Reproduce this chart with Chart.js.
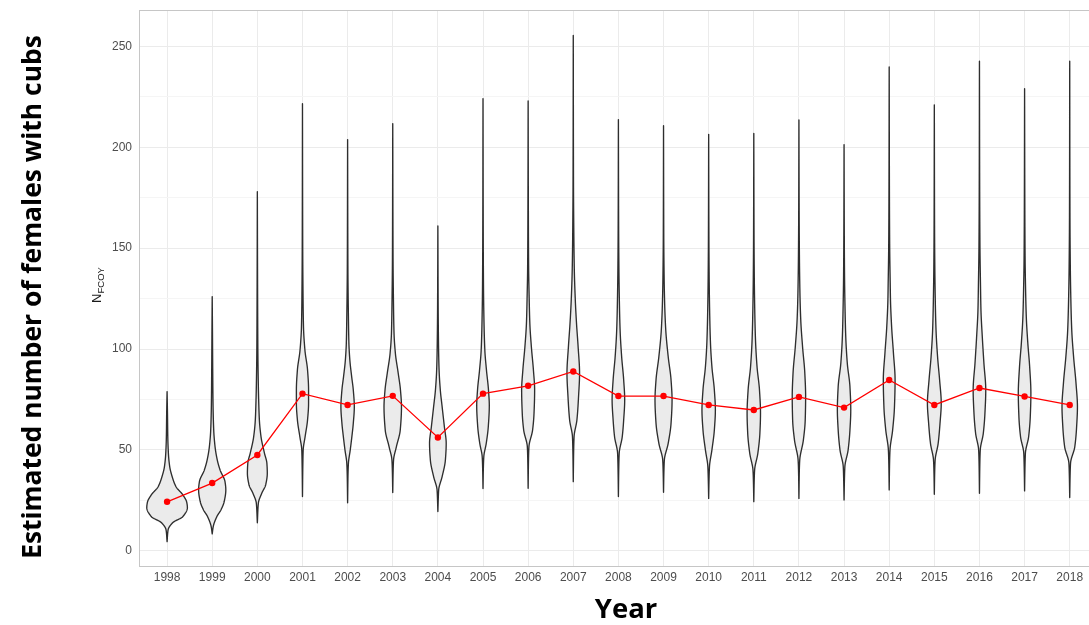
<!DOCTYPE html>
<html>
<head>
<meta charset="utf-8">
<title>Females with cubs of the year, 1998–2018</title>
<script src="https://cdn.jsdelivr.net/npm/chart.js@4.4.1/dist/chart.umd.min.js"></script>
<style>
  html, body { margin: 0; padding: 0; background: #ffffff; overflow: hidden; }
  #wrap { width: 1089px; height: 625px; overflow: hidden; position: relative; }
  canvas { display: block; }
</style>
</head>
<body>
<div id="wrap"><canvas id="chart" width="1100" height="625"></canvas></div>
<script>
// ---- data -------------------------------------------------------------
const years = ['1998','1999','2000','2001','2002','2003','2004','2005','2006','2007',
               '2008','2009','2010','2011','2012','2013','2014','2015','2016','2017','2018'];

// central estimate of N_FCOY per year (red points)
const medians = [24.3, 33.6, 47.5, 77.9, 72.3, 76.8, 56.2, 77.9, 81.8, 88.9,
                 76.7, 76.7, 72.3, 69.8, 76.3, 71.0, 84.7, 72.3, 80.7, 76.5, 72.3];

// y-axis ticks (every 25, labelled every 50)
const yTicks = [0, 25, 50, 75, 100, 125, 150, 175, 200, 225, 250];

// posterior density profile per year: N levels (first = min, last = max) ...
const violinLevels = [
  [4.6,10.4,13.9,17,21.5,24,27.7,31.8,36.8,41.7,48.5,56.6,68,78.9],
  [8.4,12,17,20.3,24.4,30.2,34.3,40,45,51.6,59.9,73,89.6,110,126],
  [13.9,23.6,28.6,32.7,38.5,43.4,48.4,56.6,64.9,73.1,81.3,100,130,178],
  [26.9,44,50,56.6,64.9,73.1,79.7,89.6,99.5,111,129,150,221.6],
  [23.8,38,43.4,50,56.6,63.2,71.4,79.7,86.3,94.6,102.8,116,140,203.8],
  [28.9,40,45,51.6,59.9,71.4,79.7,88,97.9,107.8,124,145,211.7],
  [19.5,26,30.2,36.8,45,53.3,61.5,71.4,79.7,89.6,100,120,161],
  [30.9,42,46.7,53.3,61.5,72,79.7,89.6,99.5,112.9,130,155,224.1],
  [31,46,51.6,59.9,68.2,79.7,89.6,101,112.7,125.9,140,165,222.9],
  [34.3,50,56.6,64.9,76.4,88,101,112.7,124.3,140,160,180,255.4],
  [26.9,42,48.4,56.6,64.9,74.8,84.7,96.2,109.4,122.6,140,160,213.7],
  [29,40,45,53.3,63.2,74.8,84.7,96.2,109.4,121,135,155,210.7],
  [26,36,41.7,50,59.9,69.8,79.7,91.2,102.8,117.7,135,155,206.4],
  [24.4,35,40,48.4,58.3,68.2,79.7,91.2,104.5,117.7,135,155,206.8],
  [26,40,45,55,64.9,76.4,88,101,114.4,127.6,145,165,213.5],
  [25.2,36,41.7,50,59.9,69.8,81.3,92.9,106,119.3,135,155,201.3],
  [30.2,44,50,59.9,71.4,84.7,97.9,111,124.3,132.7,150,175,239.8],
  [28,40,45,53.3,63.2,73.1,84.7,96.2,109.4,122.6,140,160,221],
  [28.5,44,50,58.3,68.2,79.7,92.9,106,119.3,132.5,150,175,242.6],
  [29.7,42,48.4,56.6,66.5,78.1,91.2,102.8,116,129.2,145,170,229],
  [26.4,38,43.4,51.6,61.5,71.4,83,96.2,109.4,122.6,140,165,242.6]
];

// ... and the relative density at each of those levels
const violinDensity = [
  [0,0.05,0.27,0.78,1.0,0.97,0.78,0.44,0.25,0.13,0.064,0.035,0.02,0],
  [0,0.05,0.23,0.43,0.59,0.67,0.63,0.39,0.25,0.14,0.074,0.04,0.025,0.012,0],
  [0,0.05,0.22,0.41,0.49,0.47,0.35,0.18,0.1,0.07,0.05,0.025,0.012,0],
  [0,0.02,0.035,0.13,0.25,0.3,0.3,0.25,0.12,0.05,0.025,0.012,0],
  [0,0.02,0.04,0.13,0.21,0.28,0.33,0.28,0.2,0.11,0.064,0.04,0.015,0],
  [0,0.02,0.04,0.18,0.37,0.43,0.38,0.27,0.13,0.064,0.035,0.015,0],
  [0,0.02,0.04,0.21,0.37,0.41,0.32,0.21,0.12,0.06,0.035,0.015,0],
  [0,0.02,0.04,0.16,0.26,0.31,0.27,0.17,0.09,0.05,0.025,0.012,0],
  [0,0.02,0.04,0.22,0.29,0.32,0.26,0.16,0.084,0.05,0.025,0.012,0],
  [0,0.02,0.04,0.18,0.26,0.31,0.24,0.16,0.1,0.05,0.025,0.012,0],
  [0,0.02,0.04,0.19,0.26,0.31,0.26,0.16,0.084,0.05,0.025,0.012,0],
  [0,0.02,0.04,0.23,0.37,0.42,0.37,0.23,0.11,0.06,0.03,0.012,0],
  [0,0.02,0.04,0.16,0.28,0.33,0.28,0.16,0.09,0.05,0.025,0.012,0],
  [0,0.02,0.04,0.2,0.3,0.33,0.28,0.16,0.084,0.05,0.025,0.012,0],
  [0,0.02,0.04,0.22,0.31,0.33,0.29,0.18,0.09,0.05,0.025,0.012,0],
  [0,0.02,0.04,0.2,0.29,0.33,0.29,0.16,0.084,0.05,0.025,0.012,0],
  [0,0.02,0.04,0.17,0.26,0.29,0.21,0.12,0.064,0.05,0.025,0.012,0],
  [0,0.02,0.04,0.19,0.28,0.34,0.26,0.16,0.084,0.05,0.025,0.012,0],
  [0,0.02,0.04,0.19,0.27,0.31,0.22,0.14,0.074,0.05,0.025,0.012,0],
  [0,0.02,0.04,0.2,0.28,0.31,0.25,0.16,0.084,0.05,0.025,0.012,0],
  [0,0.02,0.04,0.25,0.34,0.38,0.31,0.19,0.1,0.06,0.03,0.012,0]
];

// ---- styling ------------------------------------------------------------
const VIOLIN_SCALE = 0.45;          // half-width (in category units) at density 1
const GRID_MAJOR = '#ebebeb';
const GRID_MINOR = '#f5f5f5';
const FRAME = '#c6c6c6';
const TICK_COLOR = '#4d4d4d';

// Fritsch–Carlson monotone cubic through (xs, ys)
function monotone(xs, ys) {
  const n = xs.length, h = [], d = [], m = new Array(n);
  for (let i = 0; i < n - 1; i++) {
    h.push(xs[i + 1] - xs[i]);
    d.push((ys[i + 1] - ys[i]) / h[i]);
  }
  m[0] = d[0];
  m[n - 1] = d[n - 2];
  for (let i = 1; i < n - 1; i++) {
    if (d[i - 1] * d[i] <= 0) { m[i] = 0; continue; }
    const w1 = 2 * h[i] + h[i - 1], w2 = h[i] + 2 * h[i - 1];
    m[i] = (w1 + w2) / (w1 / d[i - 1] + w2 / d[i]);
  }
  return function (x) {
    let k = 0;
    while (k < n - 2 && x > xs[k + 1]) k++;
    const t = (x - xs[k]) / h[k], t2 = t * t, t3 = t2 * t;
    const v = (2 * t3 - 3 * t2 + 1) * ys[k] + (t3 - 2 * t2 + t) * h[k] * m[k] +
              (-2 * t3 + 3 * t2) * ys[k + 1] + (t3 - t2) * h[k] * m[k + 1];
    return Math.max(0, v);
  };
}

// violins drawn under the median line, positioned through the chart scales
const violinPlugin = {
  id: 'violins',
  beforeDatasetsDraw(chart) {
    const { ctx, scales: { x, y } } = chart;
    ctx.save();
    violinLevels.forEach((levels, i) => {
      const f = monotone(levels, violinDensity[i]);
      const lo = levels[0], hi = levels[levels.length - 1];
      const right = [], left = [];
      const steps = Math.ceil((hi - lo) / 0.2);
      for (let s = 0; s <= steps; s++) {
        const v = lo + (hi - lo) * s / steps;
        const w = f(v) * VIOLIN_SCALE;
        const py = y.getPixelForValue(v);
        right.push([x.getPixelForValue(i + w), py]);
        left.push([x.getPixelForValue(i - w), py]);
      }
      ctx.beginPath();
      ctx.moveTo(right[0][0], right[0][1]);
      for (let k = 1; k < right.length; k++) ctx.lineTo(right[k][0], right[k][1]);
      for (let k = left.length - 1; k >= 0; k--) ctx.lineTo(left[k][0], left[k][1]);
      ctx.closePath();
      ctx.fillStyle = '#ebebeb';
      ctx.fill();
      ctx.lineJoin = 'round';
      ctx.lineWidth = 1.35;
      ctx.strokeStyle = '#2e2e2e';
      ctx.stroke();
    });
    ctx.restore();
  }
};

// panel frame and the axis titles
const framePlugin = {
  id: 'frame',
  afterDraw(chart) {
    const { ctx, chartArea: a } = chart;
    ctx.save();
    ctx.strokeStyle = FRAME;
    ctx.lineWidth = 1;
    ctx.strokeRect(Math.round(a.left) - 0.5, Math.round(a.top) + 0.5,
                   Math.round(a.right - a.left) + 1, Math.round(a.bottom - a.top));

    // inner y title: N with subscript FCOY
    ctx.fillStyle = '#1a1a1a';
    ctx.translate(97, 285);
    ctx.rotate(-Math.PI / 2);
    ctx.textBaseline = 'alphabetic';
    ctx.font = '13px "Liberation Sans", Arial, sans-serif';
    const wN = ctx.measureText('N').width;
    ctx.font = '9.5px "Liberation Sans", Arial, sans-serif';
    const wSub = ctx.measureText('FCOY').width;
    const start = -(wN + wSub) / 2;
    ctx.font = '13px "Liberation Sans", Arial, sans-serif';
    ctx.textAlign = 'left';
    ctx.fillText('N', start, 4);
    ctx.font = '9.5px "Liberation Sans", Arial, sans-serif';
    ctx.fillText('FCOY', start + wN, 7);
    ctx.restore();

    // outer titles
    ctx.save();
    ctx.fillStyle = '#000000';
    const outer = 'Estimated number of females with cubs';
    ctx.font = 'bold 100px "Open Sans", sans-serif';
    const size = 100 * 524 / ctx.measureText(outer).width;
    ctx.font = 'bold ' + size.toFixed(2) + 'px "Open Sans", sans-serif';
    ctx.translate(41, 297);
    ctx.rotate(-Math.PI / 2);
    ctx.textAlign = 'center';
    ctx.textBaseline = 'alphabetic';
    ctx.fillText(outer, 0, 0);
    ctx.restore();

    ctx.save();
    ctx.fillStyle = '#000000';
    ctx.font = 'bold ' + (size * 1.04).toFixed(2) + 'px "Open Sans", sans-serif';
    ctx.textAlign = 'center';
    ctx.textBaseline = 'alphabetic';
    ctx.fillText('Year', 626, 618);
    ctx.restore();
  }
};

new Chart(document.getElementById('chart'), {
  type: 'scatter',
  data: {
    datasets: [{
      data: medians.map((m, i) => ({ x: i, y: m })),
      showLine: true,
      borderColor: '#ff0000',
      backgroundColor: '#ff0000',
      borderWidth: 1.3,
      pointRadius: 3.2,
      pointHoverRadius: 3.2,
      pointBorderWidth: 0,
      tension: 0
    }]
  },
  options: {
    responsive: false,
    animation: false,
    devicePixelRatio: 1,
    events: [],
    layout: { padding: { top: 10, right: 3, left: 0, bottom: 0 } },
    plugins: { legend: { display: false }, tooltip: { enabled: false } },
    scales: {
      x: {
        type: 'linear',
        min: -0.6,
        max: 20.6,
        afterBuildTicks: s => { s.ticks = years.map((_, i) => ({ value: i })); },
        afterFit: s => { s.height = 59; s.paddingLeft = 0; s.paddingRight = 0; },
        grid: { color: GRID_MAJOR, lineWidth: 1, drawTicks: false },
        border: { display: false },
        ticks: {
          autoSkip: false, maxRotation: 0, minRotation: 0, padding: 4,
          color: TICK_COLOR,
          font: { family: '"Liberation Sans", Arial, sans-serif', size: 12 },
          callback: v => years[v]
        }
      },
      y: {
        min: -7.5,
        max: 268,
        afterBuildTicks: s => { s.ticks = yTicks.map(v => ({ value: v })); },
        afterFit: s => { s.width = 140; s.paddingTop = 0; s.paddingBottom = 0; },
        grid: {
          color: c => (c.tick && c.tick.value % 50 === 0) ? GRID_MAJOR : GRID_MINOR,
          lineWidth: 1,
          drawTicks: false
        },
        border: { display: false },
        ticks: {
          padding: 8,
          color: TICK_COLOR,
          font: { family: '"Liberation Sans", Arial, sans-serif', size: 12 },
          callback: v => (v % 50 === 0 ? String(v) : '')
        }
      }
    }
  },
  plugins: [violinPlugin, framePlugin]
});
</script>
</body>
</html>
